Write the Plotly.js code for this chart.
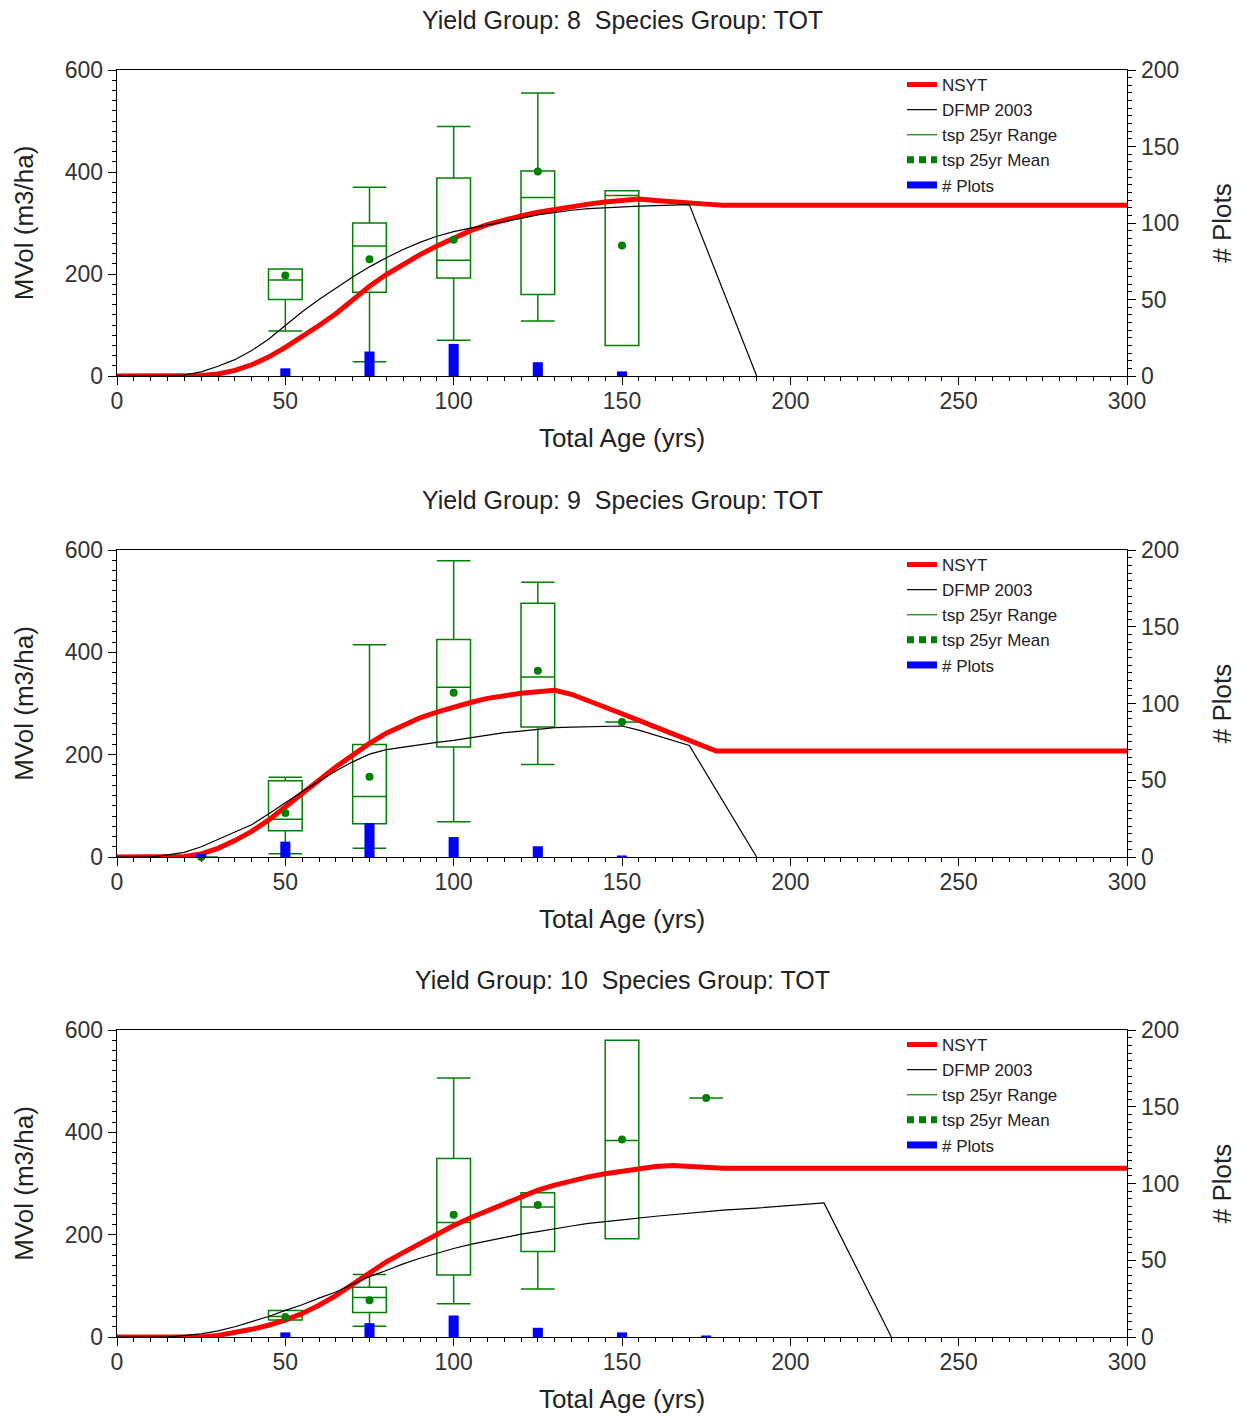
<!DOCTYPE html>
<html>
<head>
<meta charset="utf-8">
<script src="https://cdn.plot.ly/plotly-3.0.1.min.js"></script>
<style>
html,body{margin:0;padding:0;background:#fff;}
#chart{width:1244px;height:1416px;}
</style>
</head>
<body>
<div id="chart"></div>
<script>
// ---------- DATA ----------
// Yield Group 8
const nsytAge8 = [0,20,25,30,35,40,45,50,55,60,65,70,75,80,85,90,95,100,105,110,115,120,125,130,135,140,145,150,155,160,165,170,175,180,300];
const nsytVol8 = [0,0,1,4,11,22,37,56,77,99,122,150,176,199,219,238,255,271,285,297,306,314,321,327,332,337,341,345,347,344,341,339,337,335,335];
const dfmpAge8 = [0,15,20,25,30,35,40,45,50,55,60,65,70,75,80,85,90,95,100,105,110,115,120,125,130,135,140,145,150,155,160,165,170,190];
const dfmpVol8 = [0,0,2,8,19,32,50,72,99,126,150,172,194,214,232,248,262,274,283,290,296,302,309,316,321,325,328,330,332,333,334,335,336,0];
const boxAge8 = [50,75,100,125,150];
const boxLow8 = [88,28,70,108,60];
const boxQ1_8 = [150,164,192,160,60];
const boxMed8 = [188,255,227,350,354];
const boxQ3_8 = [210,300,388,402,363];
const boxUp8 = [210,370,489,555,363];
const boxMean8 = [197,229,267,401,256];
const plots8 = [5,16,21,9,3];

// Yield Group 9
const nsytAge9 = [0,15,20,25,30,35,40,45,50,55,60,65,70,75,80,85,90,95,100,105,110,115,120,125,130,135,140,145,150,155,160,165,170,175,178,300];
const nsytVol9 = [0,0,1,6,17,32,50,72,97,124,150,176,200,222,242,258,272,283,293,302,310,316,320,323,326,318,306,293,280,267,254,242,230,216,207,207];
const dfmpAge9 = [0,10,15,20,25,30,35,40,45,50,55,60,65,70,75,80,85,90,95,100,105,110,115,120,125,130,135,140,145,150,155,160,165,170,190];
const dfmpVol9 = [0,0,4,9,20,34,48,63,84,106,128,148,168,186,201,210,215,219,224,228,233,238,243,246,249,253,254,255,256,256,248,238,228,218,0];
const boxAge9 = [25,50,75,100,125,150];
const boxLow9 = [0,6.5,17,69,181,264];
const boxQ1_9 = [0,51.5,65,215,254,264];
const boxMed9 = [0,74,118,332,352,264];
const boxQ3_9 = [0,149,220,425,496,264];
const boxUp9 = [0,156,415,579,537,264];
const boxMean9 = [0,86,157,321,364,264];
const plots9 = [2,10,22,13,7,1];

// Yield Group 10
const nsytAge10 = [0,25,30,35,40,45,50,55,60,65,70,75,80,85,90,95,100,105,110,115,120,125,130,135,140,145,150,155,160,165,170,175,180,300];
const nsytVol10 = [0,0,3,8,15,23,33,46,62,81,103,126,147,165,183,201,218,233,247,261,274,287,297,306,313,319,324,329,333,335,333,331,330,330];
const dfmpAge10 = [0,15,20,25,30,35,40,45,50,55,60,65,70,75,80,85,90,95,100,105,110,115,120,125,130,135,140,145,150,160,170,180,190,200,210,230];
const dfmpVol10 = [0,0,3,6,12,20,30,40,52,63,76,88,103,118,130,143,154,164,173,181,188,195,201,206,212,217,222,226,229,236,242,248,252,257,262,0];
const boxAge10 = [50,75,100,125,150,175];
const boxLow10 = [33,21,65,94,192,467];
const boxQ1_10 = [33,48,121,167,192,467];
const boxMed10 = [40,77,224,254,384,467];
const boxQ3_10 = [52,97,349,282,580,467];
const boxUp10 = [52,122,506,282,580,467];
const boxMean10 = [39,72,239,258,386,467];
const plots10 = [3,9,14,6,3,1];

const panelTitles = ["Yield Group: 8\u00a0 Species Group: TOT","Yield Group: 9\u00a0 Species Group: TOT","Yield Group: 10\u00a0 Species Group: TOT"];
const legendNames = ["NSYT","DFMP 2003","tsp 25yr Range","tsp 25yr Mean","# Plots"];
const xTitle = "Total Age (yrs)";
const yTitle = "MVol (m3/ha)";
const y2Title = "# Plots";

// ---------- BUILD ----------
const W = 1244, H = 1416;
const FONT = "Liberation Sans, Arial, sans-serif";
const RED = "#ff0000", BLACK = "#000000", GREEN = "#008000", BLUE = "#0000ff";

const panels = [
  {top:70, bottom:376, nsA:nsytAge8, nsV:nsytVol8, dfA:dfmpAge8, dfV:dfmpVol8, bA:boxAge8, lo:boxLow8, q1:boxQ1_8, md:boxMed8, q3:boxQ3_8, up:boxUp8, mn:boxMean8, pl:plots8},
  {top:550, bottom:857, nsA:nsytAge9, nsV:nsytVol9, dfA:dfmpAge9, dfV:dfmpVol9, bA:boxAge9, lo:boxLow9, q1:boxQ1_9, md:boxMed9, q3:boxQ3_9, up:boxUp9, mn:boxMean9, pl:plots9},
  {top:1030, bottom:1337, nsA:nsytAge10, nsV:nsytVol10, dfA:dfmpAge10, dfV:dfmpVol10, bA:boxAge10, lo:boxLow10, q1:boxQ1_10, md:boxMed10, q3:boxQ3_10, up:boxUp10, mn:boxMean10, pl:plots10}
];

const traces = [];
const layout = {
  width: W, height: H,
  margin: {l:0, r:0, t:0, b:0},
  paper_bgcolor: "#fff", plot_bgcolor: "#fff",
  font: {family: FONT, color: "#333"},
  showlegend: true,
  annotations: [],
  barmode: "overlay"
};

panels.forEach((p, i) => {
  const xa = i === 0 ? "x" : "x" + (i + 1);
  const yl = i === 0 ? "y" : "y" + (2 * i + 1);
  const yr = "y" + (2 * i + 2);
  const leg = i === 0 ? "legend" : "legend" + (i + 1);
  const dom = [1 - p.bottom / H, 1 - p.top / H];

  // NSYT
  traces.push({type:"scatter", mode:"lines", x:p.nsA, y:p.nsV, xaxis:xa, yaxis:yl, name:legendNames[0], legend:leg,
    line:{color:RED, width:5}});
  // DFMP
  traces.push({type:"scatter", mode:"lines", x:p.dfA, y:p.dfV, xaxis:xa, yaxis:yl, name:legendNames[1], legend:leg,
    line:{color:BLACK, width:1.2}});
  // Range boxes
  traces.push({type:"box", x:p.bA, q1:p.q1, median:p.md, q3:p.q3, lowerfence:p.lo, upperfence:p.up,
    xaxis:xa, yaxis:yl, width:10, whiskerwidth:1, boxpoints:false, showlegend:false, hoverinfo:"skip",
    fillcolor:"rgba(0,0,0,0)", line:{color:GREEN, width:1.5}});
  // legend entry for range
  traces.push({type:"scatter", mode:"lines", x:[null], y:[null], xaxis:xa, yaxis:yl, name:legendNames[2], legend:leg,
    line:{color:GREEN, width:1.2}});
  // means
  traces.push({type:"scatter", mode:"markers", x:p.bA, y:p.mn, xaxis:xa, yaxis:yl, showlegend:false, cliponaxis:false,
    marker:{color:GREEN, size:8, symbol:"circle"}});
  traces.push({type:"scatter", mode:"lines", x:[null], y:[null], xaxis:xa, yaxis:yl, name:legendNames[3], legend:leg,
    line:{color:GREEN, width:7, dash:"7px,5px"}});
  // # plots bars
  traces.push({type:"bar", x:p.bA, y:p.pl, xaxis:xa, yaxis:yr, width:3, showlegend:false,
    marker:{color:BLUE, line:{width:0}}});
  traces.push({type:"scatter", mode:"lines", x:[null], y:[null], xaxis:xa, yaxis:yr, name:legendNames[4], legend:leg,
    line:{color:BLUE, width:7}});

  const xKey = i === 0 ? "xaxis" : "xaxis" + (i + 1);
  const ylKey = i === 0 ? "yaxis" : "yaxis" + (2 * i + 1);
  const yrKey = "yaxis" + (2 * i + 2);

  layout[xKey] = {
    domain:[117 / W, 1127 / W], anchor:yl, range:[0,300], dtick:50, tick0:0,
    ticks:"outside", ticklen:8, tickcolor:"#000", tickwidth:1, ticklabelstandoff:-4,
    minor:{dtick:5, ticks:"outside", ticklen:4, tickcolor:"#000", showgrid:false},
    showline:true, linecolor:"#000", linewidth:1.3, mirror:true,
    showgrid:false, zeroline:false, automargin:false,
    tickfont:{size:23, color:"#333", family:FONT},
    title:{text:xTitle, font:{size:26, color:"#222", family:FONT}, standoff:16}
  };
  layout[ylKey] = {
    domain:dom, anchor:xa, range:[0,600], dtick:200, tick0:0,
    ticks:"outside", ticklen:8, tickcolor:"#000", tickwidth:1,
    minor:{dtick:20, ticks:"outside", ticklen:4, tickcolor:"#000", showgrid:false},
    showline:true, linecolor:"#000", linewidth:1.3,
    showgrid:false, zeroline:false, automargin:false,
    tickfont:{size:23, color:"#333", family:FONT},
    title:{text:yTitle, font:{size:26, color:"#222", family:FONT}, standoff:23}
  };
  layout[yrKey] = {
    domain:dom, anchor:xa, overlaying:yl, side:"right", range:[0,200], dtick:50, tick0:0,
    ticks:"outside", ticklen:8, tickcolor:"#000", tickwidth:1,
    minor:{dtick:5, ticks:"outside", ticklen:4, tickcolor:"#000", showgrid:false},
    showline:true, linecolor:"#000", linewidth:1.3,
    showgrid:false, zeroline:false, automargin:false,
    tickfont:{size:23, color:"#333", family:FONT},
    title:{text:y2Title, font:{size:26, color:"#222", family:FONT}, standoff:34}
  };
  layout[leg] = {
    x: 902 / W, y: 1 - (p.top - 3) / H, xanchor:"left", yanchor:"top",
    bgcolor:"rgba(0,0,0,0)", borderwidth:0, itemwidth:30, tracegroupgap:0, traceorder:"normal",
    font:{size:17, color:"#222", family:FONT}
  };
  layout.annotations.push({
    text: panelTitles[i], xref:"paper", yref:"paper", x:0.5, y:1 - (p.top - 50) / H,
    xanchor:"center", yanchor:"middle", showarrow:false,
    font:{size:25, color:"#222", family:FONT}
  });
});

Plotly.newPlot("chart", traces, layout, {staticPlot:true, displayModeBar:false});
</script>
</body>
</html>
